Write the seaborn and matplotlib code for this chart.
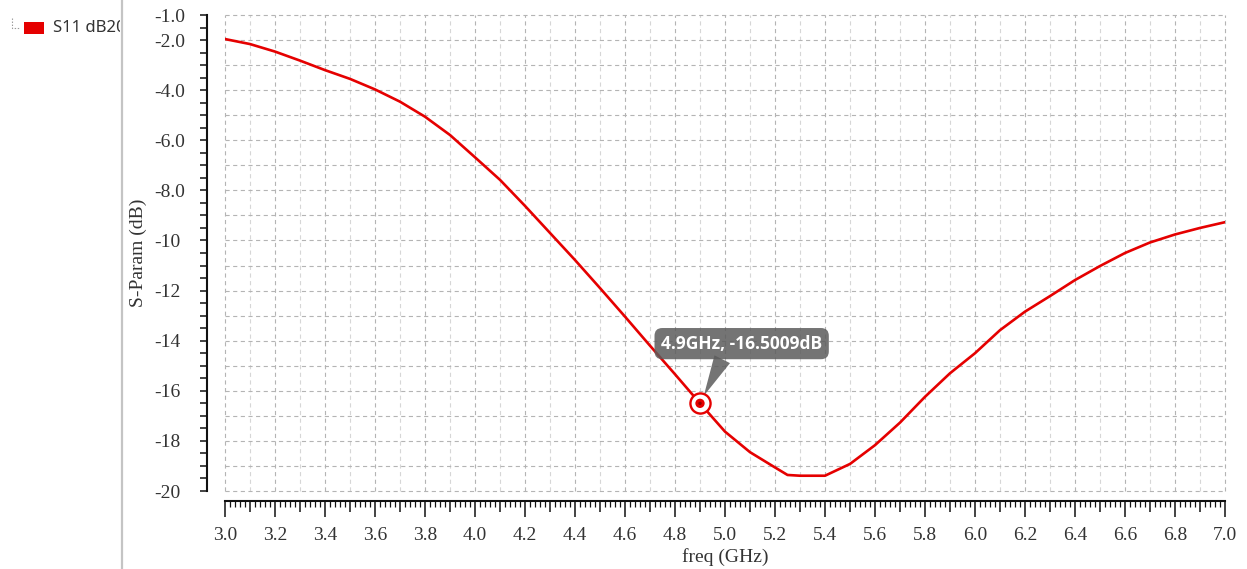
import numpy as np
import pandas as pd
import matplotlib
matplotlib.use("Agg")
import matplotlib.pyplot as plt
import seaborn as sns
from matplotlib.ticker import FixedLocator, FuncFormatter
from matplotlib.lines import Line2D
from matplotlib.patches import Rectangle
from matplotlib.transforms import Bbox, TransformedBbox

# ---------------- data ----------------
freq_ghz = [3.0, 3.1, 3.2, 3.3, 3.4, 3.5, 3.6, 3.7, 3.8, 3.9, 4.0,
            4.1, 4.2, 4.3, 4.4, 4.5, 4.6, 4.7, 4.8, 4.9, 5.0,
            5.1, 5.2, 5.25, 5.3, 5.4, 5.5, 5.6, 5.7, 5.8, 5.9, 6.0,
            6.1, 6.2, 6.3, 6.4, 6.5, 6.6, 6.7, 6.8, 6.9, 7.0]
s11_db = [-1.96, -2.16, -2.46, -2.82, -3.20, -3.55, -3.97, -4.46, -5.06, -5.79, -6.68,
          -7.58, -8.62, -9.70, -10.78, -11.90, -13.04, -14.20, -15.34, -16.50, -17.63,
          -18.45, -19.06, -19.36, -19.39, -19.39, -18.92, -18.17, -17.27, -16.24, -15.30, -14.50,
          -13.58, -12.84, -12.22, -11.58, -11.02, -10.50, -10.08, -9.76, -9.50, -9.27]
series_label = "S11 dB20"
marker_freq = 4.9
marker_db = -16.5009
x_label = "freq (GHz)"
y_label = "S-Param (dB)"

RED = "#e50000"
TXT = "#333333"

sns.set_style("white")
plt.rcParams["axes.unicode_minus"] = False
plt.rcParams["lines.scale_dashes"] = False
SERIF = ["Liberation Serif", "DejaVu Serif"]
SANS = ["Noto Sans", "DejaVu Sans"]
SANS_B = ["Open Sans", "Noto Sans", "DejaVu Sans"]

W, H = 1247, 569
fig = plt.figure(figsize=(W / 100, H / 100), dpi=100)
fig.patch.set_facecolor("white")
ax = fig.add_axes([225 / W, 1 - 491 / H, 1000 / W, 476 / H])
ax.set_facecolor("white")

df = pd.DataFrame({"freq": freq_ghz, "s11": s11_db})
sns.lineplot(data=df, x="freq", y="s11", ax=ax, color=RED, lw=1.9, legend=False, zorder=2)

ax.set_xlim(3.0, 7.0)
ax.set_ylim(-20, -1)

for s in ["top", "right"]:
    ax.spines[s].set_visible(False)
ax.spines["left"].set_position(("outward", 18 * 0.72))
ax.spines["bottom"].set_position(("outward", 10 * 0.72))
for s in ["left", "bottom"]:
    ax.spines[s].set_linewidth(1.5)
    ax.spines[s].set_color("#111111")

# ---- x ticks ----
xt = np.round(np.arange(3.0, 7.0001, 0.1), 1)
ax.xaxis.set_major_locator(FixedLocator(xt))
ax.xaxis.set_minor_locator(FixedLocator(np.round(np.arange(3.0, 7.0001, 0.02), 2)))
ax.xaxis.set_major_formatter(FuncFormatter(
    lambda v, p: f"{v:.1f}" if int(round(v * 10)) % 2 == 0 else ""))
ax.tick_params(axis="x", which="major", direction="out", length=11.5, width=1.1,
               color="#111111", pad=7, labelsize=14, labelcolor=TXT, bottom=True)
ax.tick_params(axis="x", which="minor", direction="out", length=4.3, width=0.9,
               color="#111111", bottom=True)

# ---- y ticks ----
yt = np.arange(-20, -0.5, 1.0)
ax.yaxis.set_major_locator(FixedLocator(yt))
ax.yaxis.set_minor_locator(FixedLocator(np.arange(-19.5, -1.0, 1.0)))


def yfmt(v, p):
    iv = int(round(v))
    if iv == -1:
        return "-1.0"
    if iv % 2 != 0:
        return ""
    return f"{iv:.1f}" if abs(iv) < 10 else f"{iv:d}"


ax.yaxis.set_major_formatter(FuncFormatter(yfmt))
ax.tick_params(axis="y", which="both", direction="out", length=5, width=1.1,
               color="#111111", left=True)
ax.tick_params(axis="y", which="major", pad=33, labelsize=14, labelcolor=TXT)

for lab in ax.get_yticklabels():
    lab.set_horizontalalignment("left")
    lab.set_fontfamily(SERIF)
for lab in ax.get_xticklabels():
    lab.set_fontfamily(SERIF)

# ---- grid ----
GRID_D = "#b4b4b4"
GRID_L = "#d6d6d6"
ax.grid(True, which="major", axis="both", color=GRID_D, lw=0.8, ls=(0, (3.0, 2.5)))
ax.set_axisbelow(True)
for t, v in zip(ax.xaxis.get_major_ticks(), xt):
    t.gridline.set_clip_on(False)
    if int(round(v * 10)) % 2 != 0:
        t.tick1line.set_markersize(7.9)
        t.gridline.set_color(GRID_L)
for t in ax.yaxis.get_major_ticks():
    t.gridline.set_clip_on(False)
    t.label1.set_horizontalalignment("left")

ax.set_xlabel(x_label, fontsize=14, color=TXT, family=SERIF, labelpad=3)
ax.set_ylabel(y_label, fontsize=14, color=TXT, family=SERIF, labelpad=5)

# ---- marker + callout ----
ax.scatter([marker_freq], [marker_db], s=210, facecolor="white", edgecolor=RED,
           linewidth=1.7, zorder=6)
ax.scatter([marker_freq], [marker_db], s=45, facecolor=RED, edgecolor="none", zorder=7)
ax.scatter([marker_freq], [marker_db], s=6, facecolor="#900000", edgecolor="none", zorder=8)
ax.annotate(f"{marker_freq}GHz, {marker_db}dB", xy=(marker_freq, marker_db),
            xytext=(30, 43), textcoords="offset points", ha="center", va="center",
            color="white", fontsize=12.5, fontweight="bold", family=SANS_B, zorder=5,
            bbox=dict(boxstyle="round,pad=0.38,rounding_size=0.45", fc="#5c5c5c",
                      ec="none", alpha=0.85),
            arrowprops=dict(arrowstyle="wedge,tail_width=1.0,shrink_factor=0.5",
                            fc="#5c5c5c", ec="none", alpha=0.85, relpos=(0.4, 0.0),
                            shrinkA=0, shrinkB=6))

# ---- left legend panel ----
fig.add_artist(Line2D([122 / W, 122 / W], [0, 1], transform=fig.transFigure,
                      color="#c4c4c4", lw=1.6))
fig.add_artist(Line2D([12 / W, 12 / W, 19 / W], [1 - 18 / H, 1 - 28 / H, 1 - 28 / H],
                      transform=fig.transFigure, color="#9a9a9a", lw=0.8, ls=(0, (1, 1.2))))
fig.add_artist(Rectangle((24 / W, 1 - 34 / H), 20 / W, 12 / H, transform=fig.transFigure,
                         facecolor=RED, edgecolor="none"))
lt = fig.text(53 / W, 1 - 28 / H, series_label, va="center", ha="left", fontsize=12,
              color=TXT, family=SANS)
lt.set_clip_on(True)
lt.set_clip_box(TransformedBbox(Bbox([[0, 0], [120 / W, 1]]), fig.transFigure))

fig.savefig("out.png", dpi=100, facecolor="white")
